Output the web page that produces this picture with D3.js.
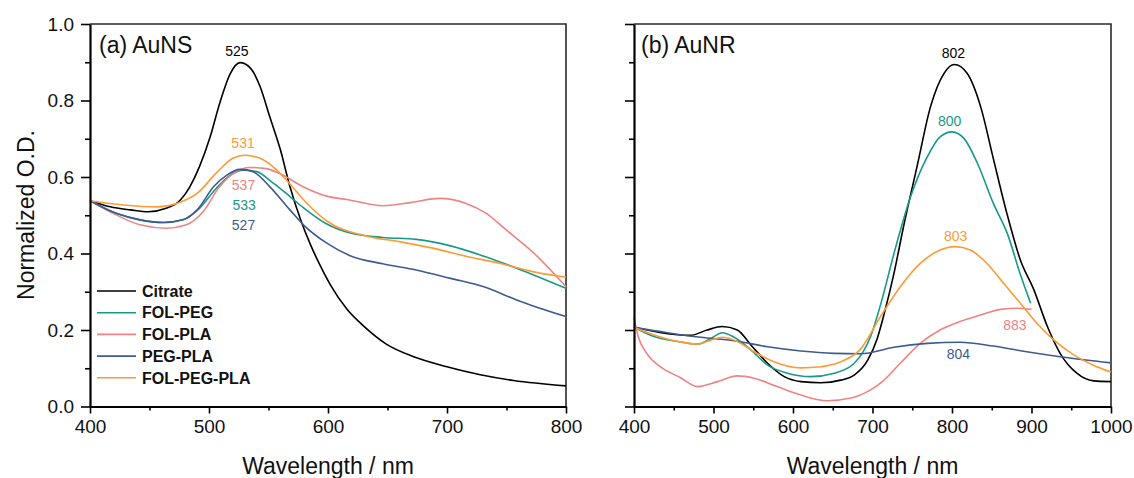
<!DOCTYPE html>
<html>
<head>
<meta charset="utf-8">
<script src="https://cdn.jsdelivr.net/npm/d3@7"></script>
<style>
  body { margin: 0; background: #fff; }
  svg { display: block; font-family: "Liberation Sans", Arial, sans-serif; }
</style>
</head>
<body>
<svg width="1134" height="478"></svg>
<script>
// series names and colours (legend order)
var seriesNames = ["Citrate", "FOL-PEG", "FOL-PLA", "PEG-PLA", "FOL-PEG-PLA"];
var seriesColors = ["#000000", "#17998a", "#f08482", "#3d5b8f", "#ff9a35"];

// (a) AuNS spectra, [wavelength nm, normalized O.D.]
var nsCitrate = [[400,0.538],[417,0.522],[434,0.514],[449,0.509],[464,0.518],[476,0.540],[484,0.575],[492,0.627],[501,0.705],[509,0.793],[518,0.871],[526,0.899],[535,0.884],[543,0.836],[551,0.758],[560,0.671],[568,0.575],[577,0.488],[585,0.425],[594,0.365],[602,0.318],[616,0.254],[630,0.210],[649,0.163],[672,0.130],[700,0.104],[728,0.083],[756,0.068],[800,0.054]];
var nsFolPeg = [[400,0.538],[422,0.505],[442,0.488],[462,0.481],[478,0.488],[492,0.518],[506,0.570],[518,0.605],[529,0.618],[540,0.614],[554,0.584],[568,0.549],[580,0.518],[599,0.477],[618,0.454],[646,0.442],[674,0.437],[703,0.420],[731,0.393],[759,0.361],[800,0.309]];
var nsFolPla = [[400,0.538],[422,0.501],[442,0.475],[464,0.466],[481,0.475],[495,0.509],[509,0.575],[523,0.614],[534,0.625],[548,0.622],[562,0.605],[577,0.578],[599,0.550],[618,0.540],[646,0.525],[669,0.533],[694,0.544],[716,0.531],[733,0.505],[750,0.461],[773,0.401],[800,0.313]];
var nsPegPla = [[400,0.538],[422,0.505],[442,0.488],[462,0.481],[478,0.488],[490,0.514],[504,0.575],[515,0.605],[526,0.620],[537,0.614],[551,0.575],[568,0.514],[580,0.473],[599,0.427],[618,0.395],[646,0.373],[674,0.357],[703,0.335],[731,0.313],[759,0.278],[800,0.235]];
var nsFolPegPla = [[400,0.538],[428,0.527],[456,0.522],[473,0.531],[490,0.557],[506,0.610],[520,0.649],[530,0.657],[543,0.649],[557,0.618],[569,0.578],[582,0.532],[599,0.485],[632,0.446],[660,0.431],[688,0.414],[716,0.393],[745,0.374],[773,0.352],[800,0.338]];

// (b) AuNR spectra
var nrCitrate = [[400,0.207],[434,0.193],[471,0.186],[492,0.200],[511,0.209],[530,0.200],[547,0.161],[568,0.113],[589,0.078],[610,0.065],[635,0.062],[660,0.069],[677,0.082],[694,0.121],[706,0.178],[715,0.245],[727,0.348],[739,0.470],[756,0.627],[773,0.784],[790,0.871],[803,0.894],[819,0.871],[836,0.784],[852,0.648],[869,0.505],[886,0.383],[903,0.305],[920,0.209],[936,0.139],[957,0.087],[978,0.067],[1000,0.065]];
var nrFolPeg = [[400,0.207],[425,0.183],[455,0.170],[480,0.163],[497,0.178],[511,0.193],[526,0.181],[547,0.148],[568,0.108],[593,0.087],[622,0.078],[652,0.087],[677,0.113],[698,0.185],[712,0.280],[727,0.400],[748,0.549],[769,0.653],[785,0.705],[800,0.718],[815,0.701],[832,0.636],[852,0.531],[870,0.450],[886,0.345],[899,0.270]];
var nrFolPla = [[400,0.232],[405,0.185],[416,0.139],[433,0.104],[458,0.076],[480,0.052],[505,0.065],[530,0.080],[551,0.074],[580,0.052],[610,0.030],[643,0.015],[673,0.022],[698,0.044],[710,0.061],[735,0.113],[760,0.165],[785,0.200],[810,0.222],[836,0.239],[861,0.254],[882,0.257],[900,0.254]];
var nrPegPla = [[400,0.207],[442,0.193],[484,0.181],[526,0.172],[568,0.156],[610,0.145],[652,0.139],[685,0.138],[727,0.155],[769,0.165],[810,0.168],[852,0.158],[894,0.143],[936,0.130],[1000,0.114]];
var nrFolPegPla = [[400,0.207],[425,0.187],[455,0.170],[480,0.163],[497,0.174],[511,0.181],[530,0.170],[551,0.143],[576,0.117],[610,0.101],[635,0.104],[660,0.117],[685,0.150],[710,0.235],[735,0.313],[760,0.374],[785,0.409],[804,0.418],[823,0.409],[844,0.374],[865,0.322],[886,0.270],[907,0.217],[928,0.174],[953,0.135],[978,0.108],[1000,0.090]];

// peak annotations: [text, wavelength, O.D., series index]
var nsPeaks = [["525",523.5,0.916,0],["531",528.6,0.676,4],["537",529,0.566,2],["533",529.5,0.514,1],["527",529,0.461,3]];
var nrPeaks = [["802",801.8,0.911,0],["800",797,0.733,1],["803",804.5,0.433,4],["883",879,0.200,2],["804",808,0.124,3]];

var yTicks = [0, 0.2, 0.4, 0.6, 0.8, 1.0];
var yMinor = [0.1, 0.3, 0.5, 0.7, 0.9];

var svg = d3.select("svg");
var plotTop = 24, plotBottom = 406.5;
var y = d3.scaleLinear().domain([0, 1]).range([plotBottom, plotTop]);

var panels = [
	{ title: "(a) AuNS", left: 90, right: 566, domain: [400, 800],
	  ticks: [400, 500, 600, 700, 800], minor: [450, 550, 650, 750],
	  series: [nsCitrate, nsFolPeg, nsFolPla, nsPegPla, nsFolPegPla], peaks: nsPeaks, yLabels: true, legend: true },
	{ title: "(b) AuNR", left: 634, right: 1111, domain: [400, 1000],
	  ticks: [400, 500, 600, 700, 800, 900, 1000], minor: [450, 550, 650, 750, 850, 950],
	  series: [nrCitrate, nrFolPeg, nrFolPla, nrPegPla, nrFolPegPla], peaks: nrPeaks, yLabels: false, legend: false }
];

panels.forEach(function(p) {
	var x = d3.scaleLinear().domain(p.domain).range([p.left, p.right]);
	var g = svg.append("g");

	// frame (top and right)
	g.append("path")
		.attr("d", "M" + p.left + "," + plotTop + "H" + p.right + "V" + plotBottom)
		.attr("fill", "none").attr("stroke", "#2b2b2b").attr("stroke-width", 1.6);

	// curves
	var line = d3.line()
		.x(function(d) { return x(d[0]); })
		.y(function(d) { return y(d[1]); })
		.curve(d3.curveMonotoneX);
	g.selectAll("path.curve").data(p.series).enter()
		.append("path")
		.attr("class", "curve")
		.attr("d", line)
		.attr("fill", "none")
		.attr("stroke", function(d, i) { return seriesColors[i]; })
		.attr("stroke-width", 1.6);

	// x axis
	g.append("g").attr("transform", "translate(0," + plotBottom + ")")
		.call(d3.axisBottom(x).tickValues(p.ticks).tickSize(7).tickSizeOuter(0).tickPadding(6).tickFormat(d3.format("d")));
	g.append("g").attr("transform", "translate(0," + plotBottom + ")")
		.call(d3.axisBottom(x).tickValues(p.minor).tickSize(4).tickFormat(""))
		.select(".domain").remove();

	// y axis
	g.append("g").attr("transform", "translate(" + p.left + ",0)")
		.call(d3.axisLeft(y).tickValues(yTicks).tickSize(9).tickSizeOuter(0).tickPadding(7)
			.tickFormat(p.yLabels ? d3.format(".1f") : ""));
	g.append("g").attr("transform", "translate(" + p.left + ",0)")
		.call(d3.axisLeft(y).tickValues(yMinor).tickSize(5).tickFormat(""))
		.select(".domain").remove();

	g.selectAll(".domain").attr("stroke", "#000").attr("stroke-width", 2.2);
	g.selectAll(".tick line").attr("stroke", "#000").attr("stroke-width", 1.6);
	g.selectAll(".tick text").attr("font-size", 19).attr("fill", "#111")
		.attr("font-family", "'Liberation Sans', Arial, sans-serif");

	// panel title
	g.append("text")
		.attr("x", p.left + (p.yLabels ? 9 : 7)).attr("y", plotTop + 29)
		.attr("font-size", 23).attr("fill", "#111")
		.text(p.title);

	// x title
	g.append("text")
		.attr("x", (p.left + p.right) / 2).attr("y", 474)
		.attr("text-anchor", "middle").attr("font-size", 23).attr("fill", "#111")
		.text("Wavelength / nm");

	// peak labels
	g.selectAll("text.peak").data(p.peaks).enter()
		.append("text")
		.attr("class", "peak")
		.attr("x", function(d) { return x(d[1]); })
		.attr("y", function(d) { return y(d[2]); })
		.attr("text-anchor", "middle")
		.attr("font-size", 14)
		.attr("fill", function(d) { return d[3] === 0 ? "#000" : seriesColors[d[3]]; })
		.text(function(d) { return d[0]; });

	// legend
	if (p.legend) {
		var lg = g.append("g").attr("transform", "translate(" + (p.left + 7) + ",291)");
		var rows = lg.selectAll("g").data(seriesNames).enter()
			.append("g")
			.attr("transform", function(d, i) { return "translate(0," + (i * 21.7) + ")"; });
		rows.append("line")
			.attr("x1", 0).attr("x2", 39)
			.attr("stroke", function(d, i) { return seriesColors[i]; })
			.attr("stroke-width", 1.6);
		rows.append("text")
			.attr("x", 45).attr("dy", "0.36em")
			.attr("font-size", 16).attr("font-weight", "bold").attr("fill", "#111")
			.text(function(d) { return d; });
	}
});

// y title
svg.append("text")
	.attr("transform", "translate(34,215) rotate(-90)")
	.attr("text-anchor", "middle").attr("font-size", 23).attr("fill", "#111")
	.text("Normalized O.D.");
</script>
</body>
</html>
